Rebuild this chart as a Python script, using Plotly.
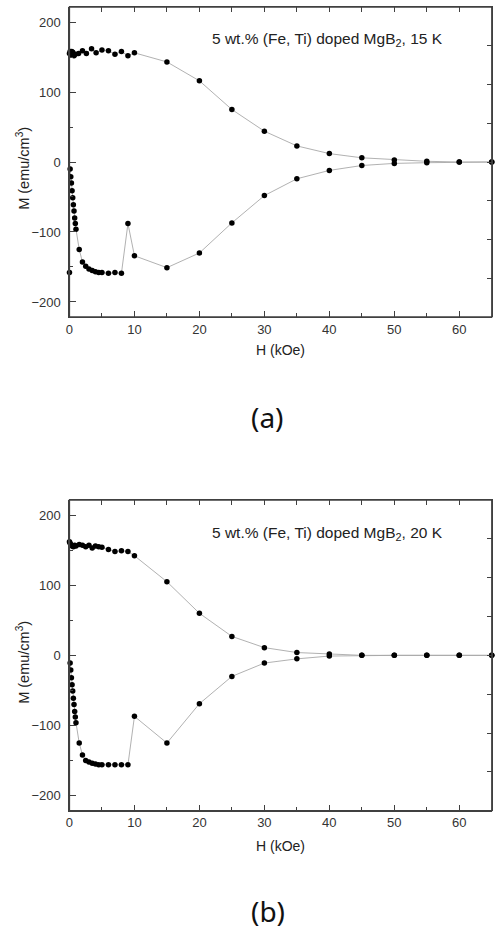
import plotly.graph_objects as go

# ---------------- data: (a) 15 K ----------------
H_a_lower = [0.1, 0.2, 0.3, 0.4, 0.5, 0.6, 0.7, 0.8, 0.9, 1.0, 1.5, 2, 2.5, 3, 3.5, 4, 4.5, 5, 6, 7, 8, 9, 10,
             15, 20, 25, 30, 35, 40, 45, 50, 55, 60, 65]
M_a_lower = [-10, -21, -30, -41, -51, -61, -70, -80, -88, -96, -125, -143, -149, -153, -155, -157, -158, -158,
             -159, -158, -159, -88, -134, -151, -130, -87, -48, -24, -12, -5, -2, -1, 0, 0]
H_a_upper = [65, 60, 55, 50, 45, 40, 35, 30, 25, 20, 15, 10, 9, 8, 7, 6, 5, 4.1, 3.4, 2.6, 2.0, 1.4,
             0.9, 0.7, 0.5, 0.35, 0.2, 0.1, 0]
M_a_upper = [0, 0, 1, 3, 6, 12, 23, 44, 75, 116, 143, 156, 152, 158, 154, 159, 160, 156, 162, 155, 159, 155,
             154, 152, 157, 158, 153, 158, 155]
H_a_extra = [0]
M_a_extra = [-158]

# ---------------- data: (b) 20 K ----------------
H_b_lower = [0.1, 0.2, 0.3, 0.4, 0.5, 0.6, 0.7, 0.8, 0.9, 1.0, 1.5, 2, 2.5, 3, 3.5, 4, 4.5, 5, 6, 7, 8, 9, 10,
             15, 20, 25, 30, 35, 40, 45, 50, 55, 60, 65]
M_b_lower = [-11, -21, -32, -42, -51, -61, -70, -80, -88, -96, -125, -142, -150, -152, -154, -155, -156, -156,
             -156, -156, -156, -156, -87, -125, -69, -30, -11, -5, -1, 0, 0, 0, 0, 0]
H_b_upper = [65, 60, 55, 50, 45, 40, 35, 30, 25, 20, 15, 10, 9, 8, 7, 6, 5, 4.5, 4, 3.5, 3, 2.5, 2, 1.5,
             1, 0.8, 0.6, 0.4, 0.2, 0.1, 0]
M_b_upper = [0, 0, 0, 0, 0, 2, 4, 11, 27, 60, 105, 142, 148, 149, 148, 151, 154, 155, 156, 153, 157, 155,
             157, 158, 156, 157, 155, 156, 158, 160, 162]

labels = ["5 wt.% (Fe, Ti) doped MgB<sub>2</sub>, 15 K", "5 wt.% (Fe, Ti) doped MgB<sub>2</sub>, 20 K"]
panel_tags = ["(a)", "(b)"]

W, Hh = 499, 931
def px(x): return x / W
def py(y): return 1 - y / Hh

FONT = "Liberation Sans, Arial, sans-serif"
LINE = "#a8a8a8"
AX = "#404040"

fig = go.Figure()

def add_loop(hl, ml, hu, mu, xa, ya, xo, yo):
    fig.add_trace(go.Scatter(x=hl + hu, y=ml + mu, mode="lines+markers", xaxis=xa, yaxis=ya,
                             line=dict(color=LINE, width=0.9),
                             marker=dict(color="black", size=5.5), showlegend=False,
                             cliponaxis=False, hoverinfo="skip"))
    # invisible companion so the frame axes (top/right) get drawn
    fig.add_trace(go.Scatter(x=hl, y=ml, mode="markers", xaxis=xo, yaxis=yo,
                             marker=dict(color="rgba(0,0,0,0)", size=1), showlegend=False,
                             hoverinfo="skip"))

add_loop(H_a_lower, M_a_lower, H_a_upper, M_a_upper, "x", "y", "x3", "y3")
fig.add_trace(go.Scatter(x=H_a_extra, y=M_a_extra, mode="markers", xaxis="x", yaxis="y",
                         marker=dict(color="black", size=5.5), showlegend=False, cliponaxis=False))
add_loop(H_b_lower, M_b_lower, H_b_upper, M_b_upper, "x2", "y2", "x4", "y4")

xdom = [px(66), px(491.7)]
ydoms = [[py(317), py(7)], [py(810.7), py(500)]]

common_x = dict(range=[0, 65], ticks="inside", dtick=10, tick0=0, ticklen=6, tickwidth=1.2,
                tickcolor=AX, showline=True, linecolor=AX, linewidth=1.3, showgrid=False,
                zeroline=False, tickfont=dict(family=FONT, size=13, color="#333"),
                minor=dict(ticks="inside", dtick=5, ticklen=4, tickcolor=AX, showgrid=False),
                domain=xdom)
common_y = dict(range=[-221.5, 221.5], ticks="inside", dtick=100, tick0=0, ticklen=6, tickwidth=1.2,
                tickcolor=AX, showline=True, linecolor=AX, linewidth=1.3, showgrid=False,
                zeroline=False, tickfont=dict(family=FONT, size=13, color="#333"),
                minor=dict(ticks="inside", dtick=50, ticklen=3, tickcolor=AX, showgrid=False),
                ticklabelstandoff=5)
top_x = dict(range=[0, 65], ticks="inside", dtick=5, tick0=0, ticklen=5, tickwidth=1.2, tickcolor=AX,
             showline=True, linecolor=AX, linewidth=1.3, showgrid=False, zeroline=False,
             showticklabels=False, side="top", domain=xdom)
right_y = dict(range=[-200, 200], ticks="inside", dtick=50, tick0=0, ticklen=5, tickwidth=1.2,
               tickcolor=AX, showline=True, linecolor=AX, linewidth=1.3, showgrid=False,
               zeroline=False, showticklabels=False, side="right")

fig.update_layout(
    width=W, height=Hh, margin=dict(l=0, r=0, t=0, b=0),
    paper_bgcolor="white", plot_bgcolor="rgba(0,0,0,0)",
    xaxis=dict(common_x, anchor="y"),
    yaxis=dict(common_y, anchor="x", domain=ydoms[0]),
    xaxis2=dict(common_x, anchor="y2"),
    yaxis2=dict(common_y, anchor="x2", domain=ydoms[1]),
    xaxis3=dict(top_x, anchor="y3"),
    yaxis3=dict(right_y, anchor="x3", domain=ydoms[0]),
    xaxis4=dict(top_x, anchor="y4"),
    yaxis4=dict(right_y, anchor="x4", domain=ydoms[1]),
)

# plot frames
for xr, yr in [("x domain", "y domain"), ("x2 domain", "y2 domain")]:
    fig.add_shape(type="rect", xref=xr, yref=yr, x0=0, x1=1, y0=0, y1=1,
                  line=dict(color=AX, width=1.3), fillcolor="rgba(0,0,0,0)", layer="above")

anns = []
for i, (ytxt, ytitle_x, ytitle_y, ytag) in enumerate([(40, 350, 168, 417), (533, 846, 662, 911)]):
    anns.append(dict(text=labels[i], x=px(208), y=py(ytxt), xref="paper", yref="paper",
                     xanchor="left", yanchor="middle", showarrow=False,
                     font=dict(family=FONT, size=15.5, color="#222")))
    anns.append(dict(text="H (kOe)", x=px(279), y=py(ytitle_x), xref="paper", yref="paper",
                     xanchor="center", yanchor="middle", showarrow=False,
                     font=dict(family=FONT, size=14, color="#222")))
    anns.append(dict(text="M (emu/cm<sup>3</sup>)", x=px(19), y=py(ytitle_y), xref="paper", yref="paper",
                     xanchor="center", yanchor="middle", showarrow=False, textangle=-90,
                     font=dict(family=FONT, size=14.5, color="#222")))
    anns.append(dict(text=panel_tags[i], x=px(266), y=py(ytag), xref="paper", yref="paper",
                     xanchor="center", yanchor="middle", showarrow=False,
                     font=dict(family="Noto Sans, Open Sans, sans-serif", size=28, color="#111")))
fig.update_layout(annotations=anns)

fig.write_html("out.html")
